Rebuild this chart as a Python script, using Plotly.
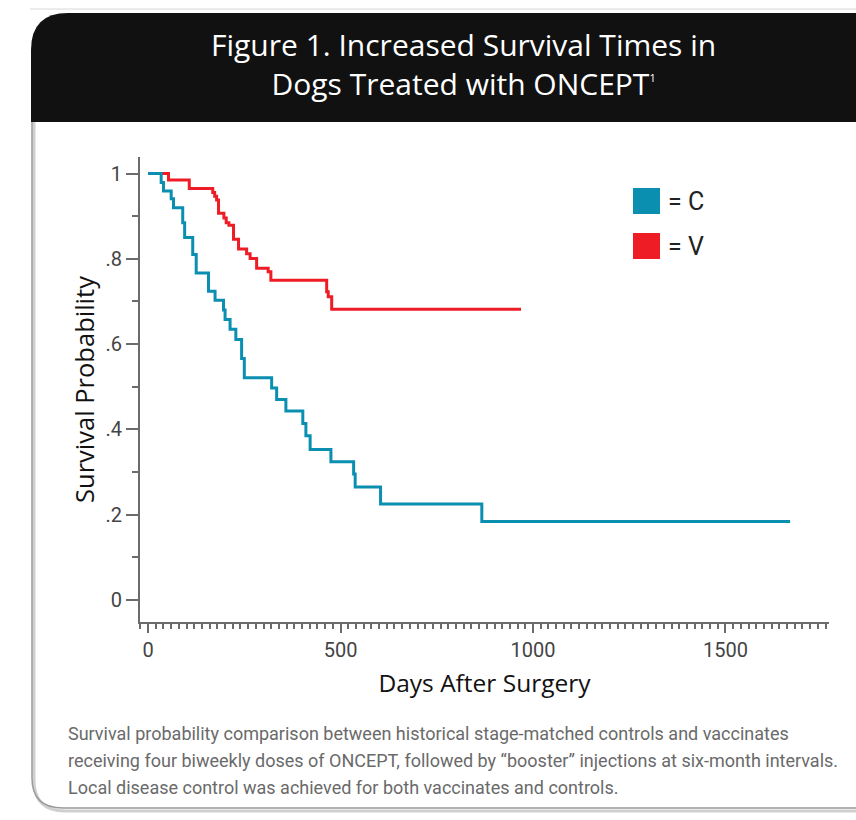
import plotly.graph_objects as go

W, H = 856, 820

# ---- data ----
control_days = [0, 34, 40, 60, 66, 90, 95, 116, 125, 157, 174, 196, 200, 213, 228, 243, 250,
                321, 334, 358, 402, 410, 421, 475, 534, 538, 604, 867, 1668]
control_surv = [1.0, 0.979, 0.959, 0.941, 0.920, 0.885, 0.850, 0.810, 0.767, 0.724, 0.703, 0.680,
                0.658, 0.635, 0.611, 0.566, 0.521, 0.497, 0.470, 0.443, 0.414, 0.385, 0.353, 0.324,
                0.295, 0.265, 0.225, 0.184, 0.184]

vacc_days = [0, 53, 107, 168, 173, 178, 183, 197, 203, 210, 222, 235, 256, 265, 282, 312, 319,
             464, 468, 477, 969]
vacc_surv = [1.0, 0.985, 0.965, 0.956, 0.947, 0.938, 0.907, 0.896, 0.885, 0.879, 0.846, 0.823,
             0.812, 0.801, 0.778, 0.770, 0.750, 0.723, 0.711, 0.682, 0.682]

series_names = ["C", "V"]
series_colors = ["#0A8FB1", "#EE1C25"]

x_label_vals = [0, 500, 1000, 1500]
x_label_text = ["0", "500", "1000", "1500"]
x_mid_ticks = list(range(0, 1800, 100))
y_tick_vals = [0, 0.2, 0.4, 0.6, 0.8, 1.0]
y_tick_text = ["0", ".2", ".4", ".6", ".8", "1"]

title_text = ("Figure 1. Increased Survival Times in<br>Dogs Treated with ONCEPT"
              "<sup><span style='font-size:11px'>1</span></sup>")
caption_lines = [
    "Survival probability comparison between historical stage-matched controls and vaccinates",
    "receiving four biweekly doses of ONCEPT, followed by \u201cbooster\u201d injections at six-month intervals.",
    "Local disease control was achieved for both vaccinates and controls.",
]

FONT = "Open Sans, Roboto, sans-serif"
CFONT = "Roboto, Open Sans, sans-serif"
AXC = "#6b6b6b"


def px(x):
    return x / W


def py(y):
    return 1 - y / H


fig = go.Figure()
# red first so the blue line is drawn on top
fig.add_trace(go.Scatter(x=vacc_days, y=vacc_surv, mode="lines", name=series_names[1],
                         line=dict(color=series_colors[1], width=3, shape="hv"), showlegend=False))
fig.add_trace(go.Scatter(x=control_days, y=control_surv, mode="lines", name=series_names[0],
                         line=dict(color=series_colors[0], width=3, shape="hv"), showlegend=False))

RX = 870
shapes = []
shapes.append(dict(type="line", xref="paper", yref="paper", x0=px(30), x1=px(RX), y0=py(9), y1=py(9),
                   line=dict(color="#d8d8d8", width=1)))
hdr = (f"M {px(31)},{py(122)} L {px(31)},{py(50)} Q {px(31)},{py(13)} {px(68)},{py(13)} "
       f"L {px(RX)},{py(13)} L {px(RX)},{py(122)} Z")
shapes.append(dict(type="path", xref="paper", yref="paper", path=hdr, fillcolor="#111111",
                   line=dict(width=0)))
shadow = (f"M {px(34)},{py(122)} L {px(34)},{py(780)} Q {px(34)},{py(811)} {px(65)},{py(811)} "
          f"L {px(RX)},{py(811)}")
shapes.append(dict(type="path", xref="paper", yref="paper", path=shadow,
                   line=dict(color="#cfcfcf", width=3)))
border = (f"M {px(32)},{py(122)} L {px(32)},{py(778)} Q {px(32)},{py(808)} {px(63)},{py(808)} "
          f"L {px(RX)},{py(808)}")
shapes.append(dict(type="path", xref="paper", yref="paper", path=border,
                   line=dict(color="#9a9a9a", width=1.5)))
shapes.append(dict(type="rect", xref="paper", yref="paper", x0=px(633), x1=px(660), y0=py(214), y1=py(188),
                   fillcolor=series_colors[0], line=dict(width=0)))
shapes.append(dict(type="rect", xref="paper", yref="paper", x0=px(633), x1=px(660), y0=py(259), y1=py(233),
                   fillcolor=series_colors[1], line=dict(width=0)))

annotations = [
    dict(text=title_text, xref="paper", yref="paper", x=px(464), y=py(64), xanchor="center",
         yanchor="middle", showarrow=False, align="center", borderpad=0,
         font=dict(family=FONT, size=30, color="white")),
    dict(text="= " + series_names[0], xref="paper", yref="paper", x=px(666), y=py(201), xanchor="left",
         yanchor="middle", showarrow=False, font=dict(family=CFONT, size=25, color="#222")),
    dict(text="= " + series_names[1], xref="paper", yref="paper", x=px(666), y=py(246), xanchor="left",
         yanchor="middle", showarrow=False, font=dict(family=CFONT, size=25, color="#222")),
]
for i, line in enumerate(caption_lines):
    annotations.append(dict(text=line, xref="paper", yref="paper", x=px(66), y=py(733 + 27 * i),
                            xanchor="left", yanchor="middle", showarrow=False, align="left",
                            font=dict(family=CFONT, size=18, color="#6a6a6a")))

fig.update_layout(
    width=W, height=H,
    margin=dict(l=0, r=0, t=0, b=0, pad=0),
    paper_bgcolor="white", plot_bgcolor="white",
    shapes=shapes, annotations=annotations,
    showlegend=False,
    xaxis=dict(
        domain=[px(140), px(829)], range=[-21, 1769],
        showline=True, linecolor=AXC, linewidth=2,
        showgrid=False, zeroline=False,
        ticks="outside", tickmode="array", tickvals=x_label_vals, ticktext=x_label_text,
        ticklen=9, tickwidth=2, tickcolor=AXC,
        minor=dict(tickmode="linear", tick0=0, dtick=20, ticks="outside", ticklen=5, tickwidth=1.5,
                   tickcolor=AXC, showgrid=False),
        tickfont=dict(family=CFONT, size=20, color="#444"),
        title=dict(text="Days After Surgery", font=dict(family=FONT, size=24.5, color="#111"), standoff=14),
        automargin=False,
    ),
    xaxis2=dict(
        domain=[px(140), px(829)], range=[-21, 1769], overlaying="x", anchor="y", side="bottom",
        showline=False, showgrid=False, zeroline=False, showticklabels=False,
        ticks="outside", tickmode="array", tickvals=x_mid_ticks,
        ticklen=9, tickwidth=2, tickcolor=AXC, automargin=False,
    ),
    yaxis=dict(
        domain=[py(622), py(157)], range=[-0.052, 1.039],
        showline=True, linecolor=AXC, linewidth=2,
        showgrid=False, zeroline=False,
        ticks="outside", tickmode="array", tickvals=y_tick_vals, ticktext=y_tick_text,
        ticklen=12, tickwidth=2, tickcolor=AXC,
        minor=dict(tickmode="linear", tick0=0, dtick=0.1, ticks="outside", ticklen=6, tickwidth=1.5,
                   tickcolor=AXC, showgrid=False),
        tickfont=dict(family=CFONT, size=20, color="#444"),
        title=dict(text="Survival Probability", font=dict(family=FONT, size=25.5, color="#111"), standoff=4),
        automargin=False,
    ),
)

fig.write_html("out.html", config={"displayModeBar": False},
               post_script="document.body.style.margin='0';document.body.style.overflow='hidden';")
